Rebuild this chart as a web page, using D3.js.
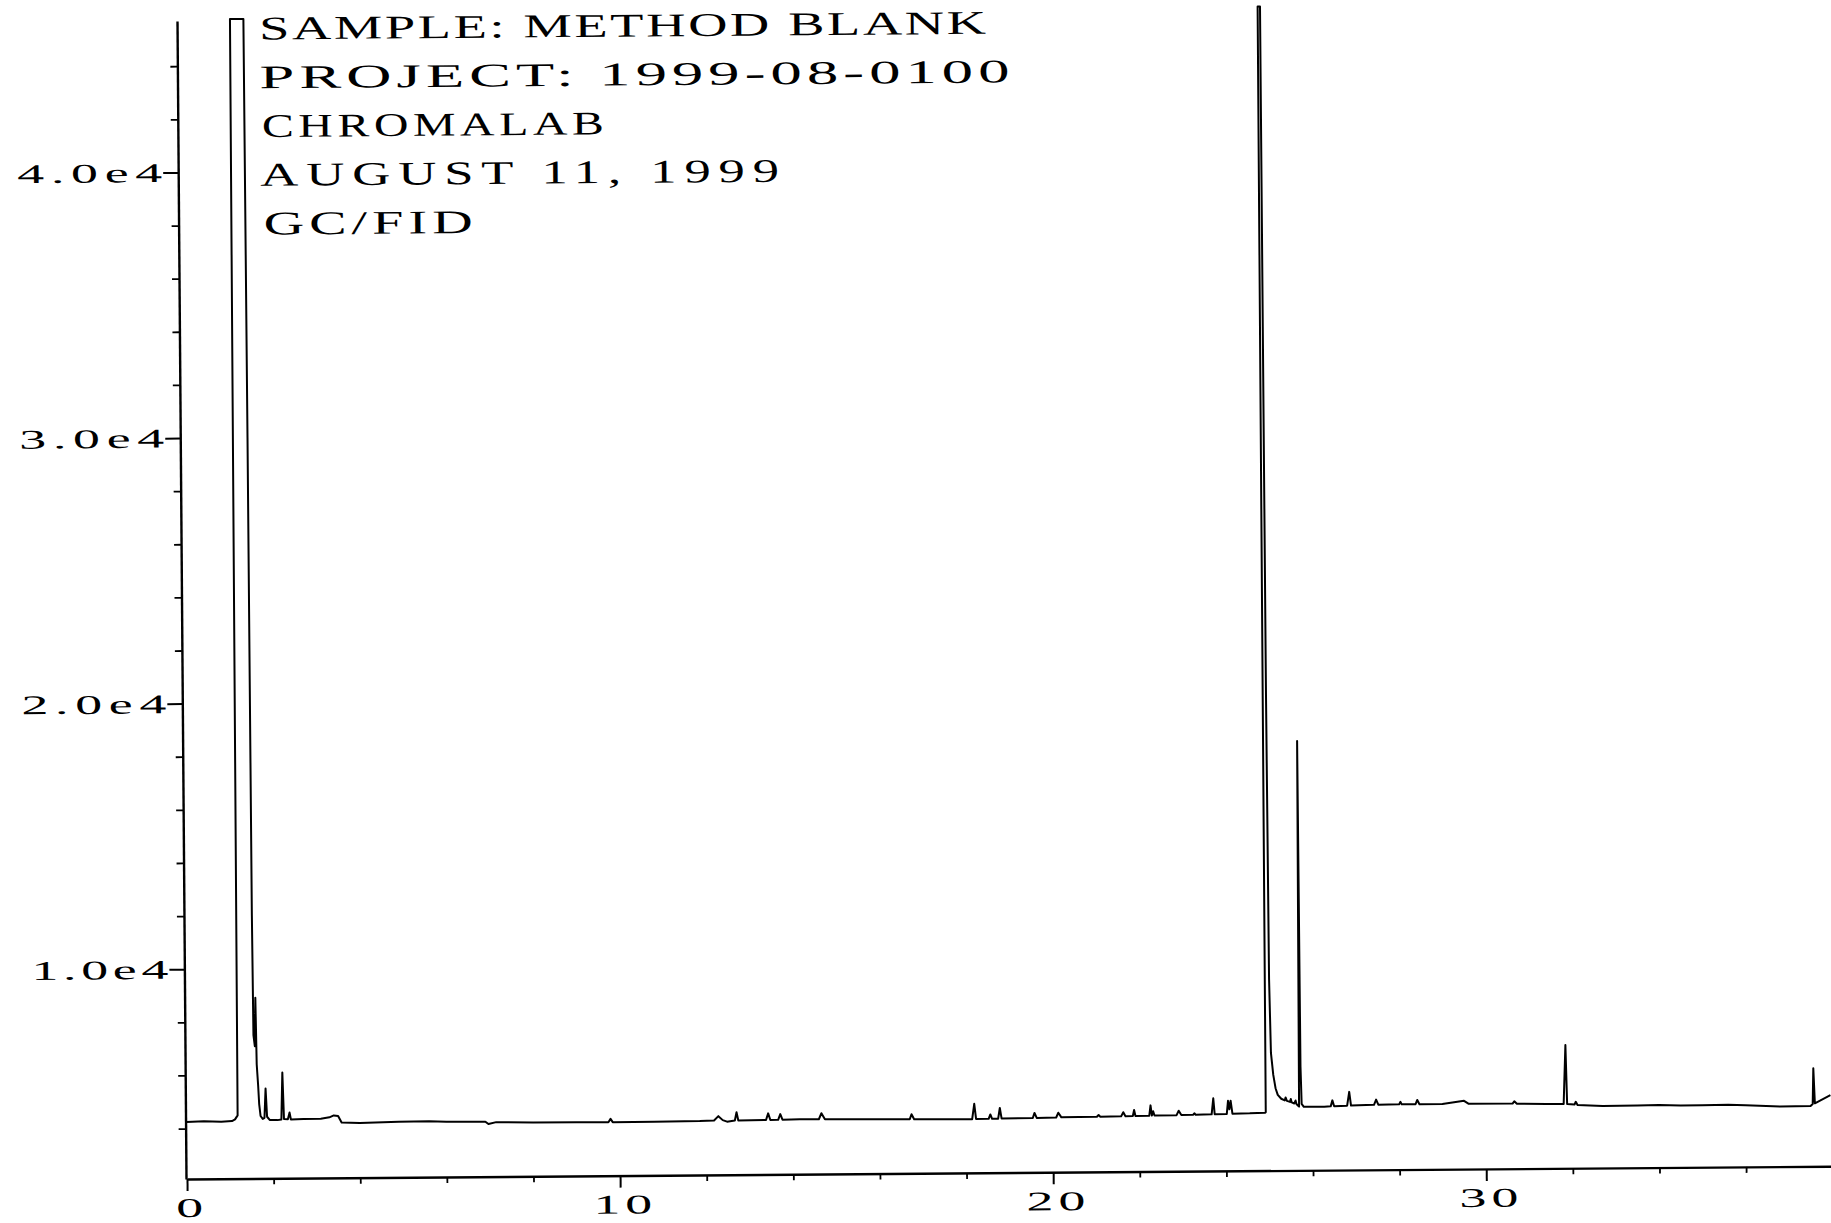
<!DOCTYPE html>
<html>
<head>
<meta charset="utf-8">
<script src="https://cdn.jsdelivr.net/npm/d3@7"></script>
<style>
  html, body { margin: 0; padding: 0; background: #ffffff; }
  svg { display: block; }
</style>
</head>
<body>
<svg id="chart" width="1831" height="1223"></svg>
<script>
// ---------------- data ----------------
const headerLines = ["SAMPLE: METHOD BLANK", "PROJECT: 1999-08-0100", "CHROMALAB", "AUGUST 11, 1999", "GC/FID"];

// retention time (min)
const retentionTime = [
  0.00, 0.40, 0.80, 1.05, 1.12, 1.18, 1.20, 1.51, 1.53, 1.545, 1.56, 1.59, 1.61, 1.63, 1.66, 1.68, 1.71, 1.76,
  1.80, 1.83, 1.86, 1.92, 2.10, 2.19, 2.22, 2.25, 2.34, 2.38, 2.41, 2.70, 3.10, 3.30, 3.40, 3.50, 3.58, 4.00,
  4.90, 5.60, 6.00, 6.90, 6.97, 7.15, 8.00, 9.00, 9.74, 9.79, 9.84, 10.80, 11.85, 12.18, 12.28, 12.38, 12.48,
  12.66, 12.70, 12.74, 13.38, 13.43, 13.48, 13.66, 13.71, 13.76, 14.16, 14.60, 14.66, 14.74, 15.60, 16.47,
  16.70, 16.74, 16.80, 17.60, 18.14, 18.19, 18.23, 18.52, 18.56, 18.60, 18.74, 18.78, 18.82, 19.54, 19.58,
  19.63, 20.08, 20.13, 20.20, 21.02, 21.06, 21.10, 21.58, 21.63, 21.68, 21.85, 21.88, 21.91, 22.23, 22.26,
  22.29, 22.32, 22.35, 22.86, 22.91, 22.97, 23.24, 23.27, 23.30, 23.67, 23.71, 23.74, 24.02, 24.05, 24.08,
  24.11, 24.15, 24.55, 24.91, 24.92, 24.93, 24.985, 25.00, 25.02, 25.05, 25.10, 25.15, 25.20, 25.28, 25.36,
  25.38, 25.41, 25.48, 25.50, 25.52, 25.58, 25.61, 25.63, 25.67, 25.69, 25.71, 25.73, 25.75, 25.80, 26.27,
  26.42, 26.46, 26.50, 26.80, 26.85, 26.89, 27.42, 27.47, 27.52, 28.00, 28.03, 28.06, 28.38, 28.42, 28.47,
  29.00, 29.50, 29.60, 30.62, 30.66, 30.72, 31.40, 31.80, 31.85, 31.88, 32.05, 32.08, 32.12, 32.70, 33.50,
  34.00, 34.50, 35.00, 35.60, 36.00, 36.80, 37.50, 37.55, 37.57, 37.60, 37.96
];

// detector signal (counts)
const signal = [
  4250, 4265, 4245, 4270, 4330, 4480, 45760, 45760, 30000, 12000, 7500, 7080, 8900, 6400, 5580, 4900, 4450, 4340,
  4380, 5480, 4420, 4300, 4290, 4310, 6080, 4330, 4320, 4570, 4310, 4320, 4330, 4380, 4450, 4430, 4180, 4160,
  4190, 4200, 4180, 4170, 4080, 4150, 4130, 4120, 4115, 4240, 4115, 4120, 4133, 4150, 4310, 4160, 4100,
  4140, 4450, 4140, 4150, 4400, 4150, 4155, 4370, 4160, 4167, 4165, 4390, 4165, 4150, 4137,
  4140, 4325, 4140, 4125, 4120, 4700, 4130, 4130, 4295, 4130, 4133, 4535, 4135, 4150, 4340,
  4150, 4160, 4340, 4165, 4175, 4240, 4178, 4185, 4340, 4190, 4195, 4420, 4195, 4200, 4590,
  4205, 4370, 4205, 4215, 4380, 4215, 4222, 4280, 4225, 4235, 4840, 4240, 4245, 4740, 4420,
  4745, 4255, 4260, 4280, 4300, 45930, 45930, 20000, 9300, 6530, 5700, 5200, 4950, 4800, 4740,
  4850, 4720, 4680, 4790, 4660, 4620, 4730, 4600, 4530, 4500, 18270, 6000, 4600, 4490, 4491,
  4500, 4725, 4505, 4520, 5040, 4525, 4545, 4740, 4550, 4555, 4650, 4555, 4555, 4715, 4555,
  4560, 4670, 4560, 4550, 4640, 4545, 4530, 4521, 6740, 4520, 4500, 4600, 4480, 4434, 4440,
  4460, 4430, 4434, 4440, 4420, 4360, 4374, 4450, 5790, 4472, 4780
];

const yMajorTicks = [10000, 20000, 30000, 40000];
const yTickLabels = ["1.0e4", "2.0e4", "3.0e4", "4.0e4"];
const yMinorTicks = [4000, 6000, 8000, 12000, 14000, 16000, 18000, 22000, 24000, 26000, 28000,
                     32000, 34000, 36000, 38000, 42000, 44000];
const xMajorTicks = [0, 10, 20, 30];
const xTickLabels = ["0", "10", "20", "30"];
const xMinorTicks = [2, 4, 6, 8, 12, 14, 16, 18, 22, 24, 26, 28, 32, 34, 36];

// ---------------- layout ----------------
const layout = {
  axisX: 186, axisY: 1179, plotLeft: 187, plotRight: 1831, plotTop: 21,
  xMax: 37.96, yMin: 2100, yMax: 45700,
  tilt: -0.445,
  font: "'Liberation Serif', 'DejaVu Serif', serif",
  headerX: [268, 268, 270, 268, 271],
  headerY0: 40, headerStep: 48.8, headerSize: 33,
  headerWidths: [727, 750, 342, 519, 209],
  headerStretch: [1.65, 1.9, 1.45, 1.6, 1.7],
  tickFont: 27, tickStretch: 2.0
};

const svg = d3.select("#chart");
svg.append("rect").attr("width", 1831).attr("height", 1223).attr("fill", "#fff");

const root = svg.append("g")
  .attr("transform", `rotate(${layout.tilt}, ${layout.axisX}, ${layout.axisY})`);

const x = d3.scaleLinear().domain([0, layout.xMax]).range([layout.plotLeft, layout.plotRight]);
const y = d3.scaleLinear().domain([layout.yMin, layout.yMax]).range([layout.axisY, layout.plotTop]);

const ts = layout.tickStretch;

// ---- y axis ----
const yMinorG = root.append("g").attr("transform", `translate(${layout.axisX},0)`)
  .call(d3.axisLeft(y).tickValues(yMinorTicks).tickSize(7).tickFormat(""));
yMinorG.select(".domain").remove();
yMinorG.selectAll(".tick line").attr("stroke", "#000").attr("stroke-width", 1.8);

const yG = root.append("g").attr("transform", `translate(${layout.axisX},0)`)
  .call(d3.axisLeft(y).tickValues(yMajorTicks).tickFormat((d, i) => yTickLabels[i])
        .tickSize(15).tickSizeOuter(0).tickPadding(1));
yG.attr("font-family", layout.font).attr("font-size", layout.tickFont);
yG.select(".domain").attr("stroke", "#000").attr("stroke-width", 2.4);
yG.selectAll(".tick line").attr("stroke", "#000").attr("stroke-width", 2);
yG.selectAll(".tick text")
  .attr("fill", "#000").attr("dy", null).attr("y", 9).attr("x", -16 / ts)
  .attr("transform", `scale(${ts},1)`)
  .attr("textLength", (d, i) => (yTickLabels[i].startsWith("1") ? 137 : 145) / ts)
  .attr("lengthAdjust", "spacing");

// ---- x axis ----
const xMinorG = root.append("g").attr("transform", `translate(0,${layout.axisY})`)
  .call(d3.axisBottom(x).tickValues(xMinorTicks).tickSize(6).tickFormat(""));
xMinorG.select(".domain").remove();
xMinorG.selectAll(".tick line").attr("stroke", "#000").attr("stroke-width", 1.8);

const xG = root.append("g").attr("transform", `translate(0,${layout.axisY})`)
  .call(d3.axisBottom(x).tickValues(xMajorTicks).tickFormat((d, i) => xTickLabels[i])
        .tickSize(12).tickSizeOuter(0));
xG.attr("font-family", layout.font).attr("font-size", layout.tickFont);
xG.select(".domain").attr("stroke", "#000").attr("stroke-width", 2.4);
xG.selectAll(".tick line").attr("stroke", "#000").attr("stroke-width", 2);
xG.selectAll(".tick text")
  .attr("fill", "#000").attr("dy", null).attr("y", 38).attr("x", 2 / ts)
  .attr("transform", `scale(${ts},1)`)
  .each(function (d, i) {
    if (xTickLabels[i].length > 1) {
      d3.select(this).attr("textLength", 59 / ts).attr("lengthAdjust", "spacing");
    }
  });

// ---- chromatogram trace ----
const pts = retentionTime.map((t, i) => [t, signal[i]]);
const line = d3.line().x(d => x(d[0])).y(d => y(d[1]));
root.append("path")
  .datum(pts)
  .attr("d", line)
  .attr("fill", "none")
  .attr("stroke", "#000")
  .attr("stroke-width", 2)
  .attr("stroke-linejoin", "round");

// ---- header text ----
root.append("g").selectAll("g")
  .data(headerLines)
  .join("g")
  .attr("transform", (d, i) =>
    `translate(${layout.headerX[i]},${layout.headerY0 + i * layout.headerStep}) scale(${layout.headerStretch[i]},1)`)
  .append("text")
  .attr("x", 0).attr("y", 0)
  .attr("font-family", layout.font)
  .attr("font-size", layout.headerSize)
  .attr("fill", "#000")
  .attr("textLength", (d, i) => layout.headerWidths[i] / layout.headerStretch[i])
  .attr("lengthAdjust", "spacing")
  .text(d => d);
</script>
</body>
</html>
